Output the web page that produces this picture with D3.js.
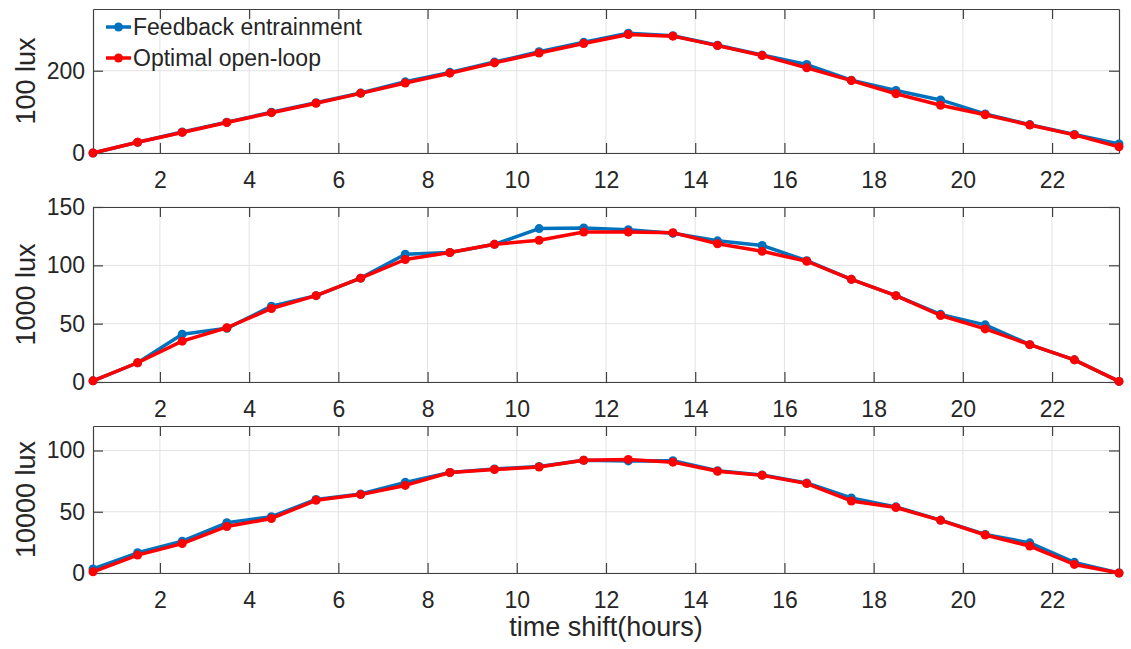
<!DOCTYPE html>
<html>
<head>
<meta charset="utf-8">
<script src="https://d3js.org/d3.v7.min.js"></script>
<style>
  body { margin: 0; background: #fff; }
  text { font-family: Arial, "Liberation Sans", sans-serif; fill: #262626; }
</style>
</head>
<body>
<div id="chart"></div>
<script>
var hours = [0.5, 1.5, 2.5, 3.5, 4.5, 5.5, 6.5, 7.5, 8.5, 9.5, 10.5, 11.5,
             12.5, 13.5, 14.5, 15.5, 16.5, 17.5, 18.5, 19.5, 20.5, 21.5, 22.5, 23.5];
var xTicks = [2, 4, 6, 8, 10, 12, 14, 16, 18, 20, 22];

// 100 lux
var fb100 = [0, 26, 51, 75, 99, 122, 146, 173, 196, 221, 246, 269, 291, 285, 262, 238, 215, 177, 152, 129, 95, 69, 45, 22];
var ol100 = [0, 26, 50, 74, 98, 121, 145, 170, 194, 219, 243, 266, 288, 284, 261, 237, 207, 176, 144, 116, 93, 68, 44, 15];
// 1000 lux
var fb1000 = [1, 16.5, 41, 46, 65, 74, 89, 109.5, 111, 118, 131.5, 132, 130.5, 127.5, 121, 117, 104, 88, 74, 58, 49, 32, 19, 0.5];
var ol1000 = [1, 16.5, 35, 46.5, 63, 74, 89, 105, 111, 118, 121.5, 128.5, 128.5, 128, 118.5, 112, 103.5, 88, 74, 57, 45.5, 32, 19, 0.5];
// 10000 lux
var fb10000 = [3.3, 16.5, 26, 41, 46, 60, 64.5, 74, 82, 85, 87, 92, 91.5, 91.7, 83.5, 80, 73.5, 61.2, 54, 43.2, 31.5, 24.6, 8.7, 0];
var ol10000 = [1, 14.6, 24, 38, 44.5, 59.3, 64, 71.5, 82, 84.5, 86.5, 92, 92.7, 90.5, 83, 79.7, 73, 58.8, 53.5, 43, 31, 22, 7, 0];

var seriesNames = ["Feedback entrainment", "Optimal open-loop"];
var colors = ["#0072BD", "#FF0000"];

var panels = [
  {label: "100 lux", fb: fb100, ol: ol100, yMax: 350, yTicks: [0, 200], top: 9, bottom: 153},
  {label: "1000 lux", fb: fb1000, ol: ol1000, yMax: 150, yTicks: [0, 50, 100, 150], top: 207, bottom: 382},
  {label: "10000 lux", fb: fb10000, ol: ol10000, yMax: 120, yTicks: [0, 50, 100], top: 426, bottom: 573}
];

var w = 1131, h = 649,
    left = 93, right = 1119,
    fontSize = 23, labelSize = 27, tickLen = 10;

var svg = d3.select("#chart").append("svg")
  .attr("width", w)
  .attr("height", h);

var x = d3.scaleLinear().domain([0.5, 23.5]).range([left, right]);

panels.forEach(function(p){
  var y = d3.scaleLinear().domain([0, p.yMax]).range([p.bottom, p.top]);
  var g = svg.append("g");

  // grid
  g.selectAll(".vgrid").data(xTicks).enter().append("line")
    .attr("x1", function(d){ return x(d) }).attr("x2", function(d){ return x(d) })
    .attr("y1", p.top).attr("y2", p.bottom)
    .attr("stroke", "#e3e3e3").attr("stroke-width", 1);
  g.selectAll(".hgrid").data(p.yTicks).enter().append("line")
    .attr("x1", left).attr("x2", right)
    .attr("y1", function(d){ return y(d) }).attr("y2", function(d){ return y(d) })
    .attr("stroke", "#e3e3e3").attr("stroke-width", 1);

  // axes with inward ticks on all four sides
  g.append("g")
    .attr("transform", "translate(0," + p.bottom + ")")
    .call(d3.axisBottom(x).tickValues(xTicks).tickSizeInner(-tickLen).tickSizeOuter(0).tickPadding(19))
    .call(styleAxis);
  g.append("g")
    .attr("transform", "translate(0," + p.top + ")")
    .call(d3.axisTop(x).tickValues(xTicks).tickSizeInner(-tickLen).tickSizeOuter(0).tickFormat(""))
    .call(styleAxis);
  g.append("g")
    .attr("transform", "translate(" + left + ",0)")
    .call(d3.axisLeft(y).tickValues(p.yTicks).tickSizeInner(-tickLen).tickSizeOuter(0).tickPadding(8))
    .call(styleAxis);
  g.append("g")
    .attr("transform", "translate(" + right + ",0)")
    .call(d3.axisRight(y).tickValues(p.yTicks).tickSizeInner(-tickLen).tickSizeOuter(0).tickFormat(""))
    .call(styleAxis);

  g.append("text")
    .attr("transform", "translate(26," + ((p.top + p.bottom) / 2) + ") rotate(-90)")
    .attr("text-anchor", "middle")
    .attr("dy", "0.35em")
    .style("font-size", labelSize + "px")
    .text(p.label);

  var line = d3.line()
    .x(function(d, i){ return x(hours[i]) })
    .y(function(d){ return y(d) });

  [p.fb, p.ol].forEach(function(vals, k){
    g.append("path")
      .datum(vals)
      .attr("d", line)
      .attr("fill", "none")
      .attr("stroke", colors[k])
      .attr("stroke-width", 3.5)
      .attr("stroke-linejoin", "round");
    g.selectAll(".dot" + k).data(vals).enter().append("circle")
      .attr("cx", function(d, i){ return x(hours[i]) })
      .attr("cy", function(d){ return y(d) })
      .attr("r", 4.5)
      .attr("fill", colors[k]);
  });
});

function styleAxis(sel){
  sel.select(".domain").attr("stroke", "#404040").attr("stroke-width", 1.2);
  sel.selectAll(".tick line").attr("stroke", "#404040").attr("stroke-width", 1.2);
  sel.selectAll(".tick text")
    .style("font-size", fontSize + "px")
    .attr("fill", "#262626");
}

// x label
svg.append("text")
  .attr("x", (left + right) / 2)
  .attr("y", 636)
  .attr("text-anchor", "middle")
  .style("font-size", labelSize + "px")
  .text("time shift(hours)");

// legend
var legend = svg.append("g");
seriesNames.forEach(function(name, i){
  var ly = 27 + i * 31;
  legend.append("line")
    .attr("x1", 106).attr("x2", 131)
    .attr("y1", ly).attr("y2", ly)
    .attr("stroke", colors[i]).attr("stroke-width", 3.5);
  legend.append("circle")
    .attr("cx", 118.5).attr("cy", ly).attr("r", 4.5)
    .attr("fill", colors[i]);
  legend.append("text")
    .attr("x", 133).attr("y", ly)
    .attr("dy", "0.35em")
    .style("font-size", fontSize + "px")
    .text(name);
});
</script>
</body>
</html>
